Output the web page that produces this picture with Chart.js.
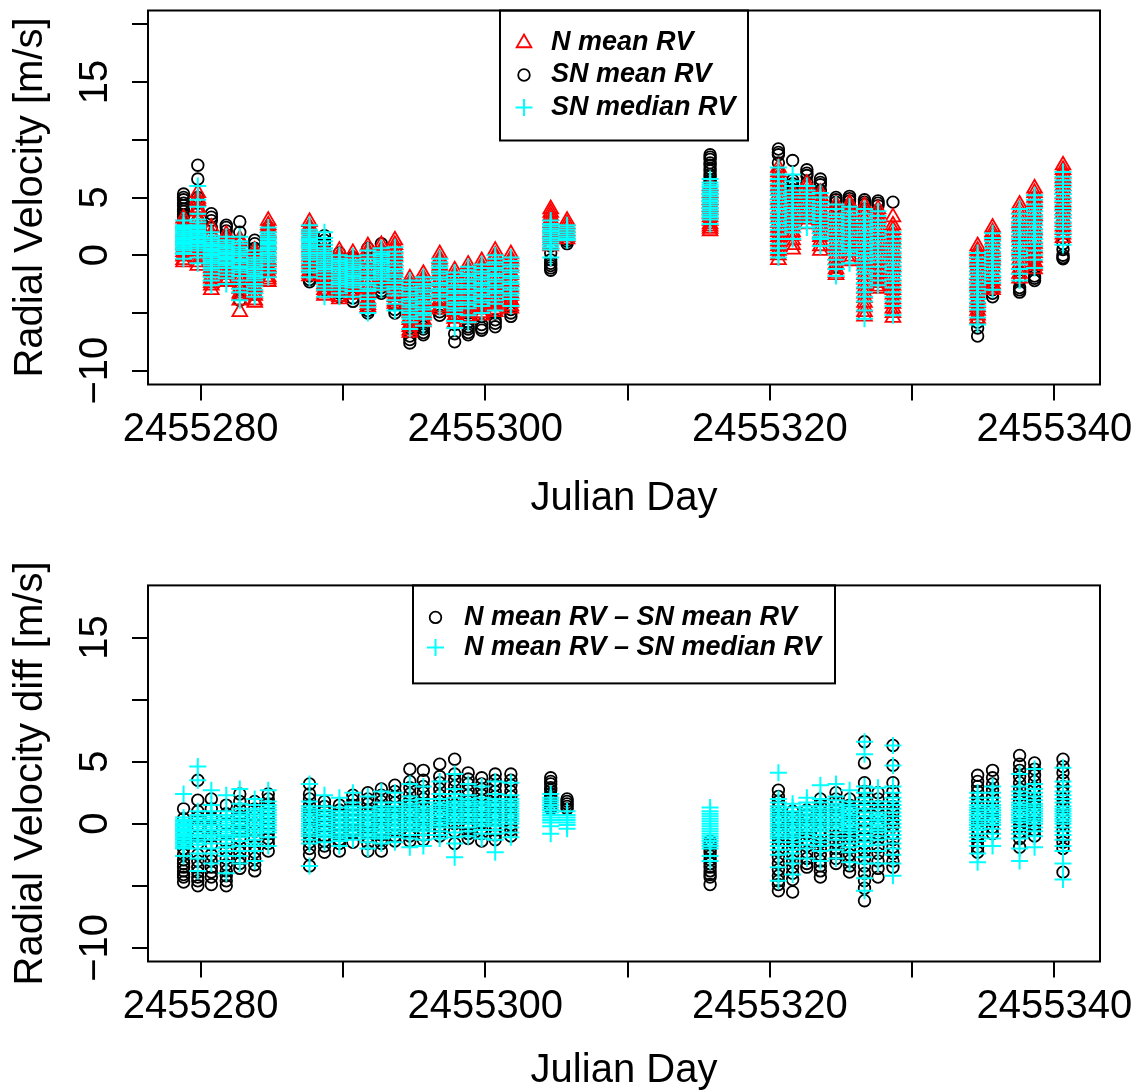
<!DOCTYPE html>
<html>
<head>
<meta charset="utf-8">
<script src="https://cdn.jsdelivr.net/npm/chart.js@4.4.1/dist/chart.umd.min.js"></script>
<style>
  body { margin: 0; background: #fff; }
  canvas { display: block; }
</style>
</head>
<body>
<canvas id="rvChart" width="1144" height="546"></canvas>
<canvas id="diffChart" width="1144" height="545"></canvas>
<script>
// Julian Day of each observing night
const nights = [
  2455278.8, 2455279.8, 2455280.75, 2455281.8, 2455282.75, 2455283.8, 2455284.75,
  2455287.65, 2455288.7, 2455289.75, 2455290.7, 2455291.75, 2455292.7, 2455293.65,
  2455294.7, 2455295.65, 2455296.8, 2455297.85, 2455298.8, 2455299.75, 2455300.7, 2455301.8,
  2455304.6, 2455305.75, 2455315.8,
  2455320.6, 2455321.6, 2455322.6, 2455323.55, 2455324.65, 2455325.6, 2455326.65, 2455327.6, 2455328.65,
  2455334.6, 2455335.65, 2455337.55, 2455338.6, 2455340.6
];

// top panel: RV values per night [m/s]
const nMeanRV = [
  [3.2, 2.8, 2.6, 2.1, 1.9, 1.6, 1.4, 1.3, 1.0, 0.9, 0.6, 0.5, 0.3, 0.0, -0.1, -0.4, -0.6],
  [5.4, 4.9, 4.7, 4.1, 3.8, 3.2, 3.0, 2.6, 2.5, 2.1, 1.9, 1.6, 1.2, 1.0, 0.7, 0.4, 0.1, -0.2, -0.6, -0.9],
  [2.4, 1.9, 1.7, 1.2, 1.0, 0.7, 0.3, 0.1, -0.3, -0.5, -0.9, -1.1, -1.4, -1.8, -2.0, -2.4, -2.6, -3.0],
  [1.8, 1.4, 1.3, 0.9, 0.5, 0.4, 0.0, -0.2, -0.6, -0.8, -1.1, -1.5, -1.7, -2.0, -2.3],
  [1.4, 1.1, 0.6, 0.3, -0.2, -0.5, -0.9, -1.3, -1.8, -2.1, -2.5, -2.9, -3.3, -3.5, -3.9, -4.9],
  [0.4, 0.1, -0.3, -0.5, -1.0, -1.2, -1.6, -2.0, -2.3, -2.7, -2.9, -3.3, -3.5, -3.9, -4.1],
  [3.0, 2.6, 2.4, 2.0, 1.9, 1.5, 1.1, 0.9, 0.6, 0.2, 0.0, -0.4, -0.6, -1.0, -1.2, -1.5, -1.9, -2.1, -2.3],
  [2.9, 2.5, 2.3, 1.9, 1.7, 1.3, 1.1, 0.7, 0.5, 0.2, -0.1, -0.5, -0.7, -1.0, -1.4, -1.6, -1.8],
  [0.6, 0.4, 0.0, -0.4, -0.6, -1.0, -1.2, -1.5, -1.9, -2.1, -2.5, -2.7, -3.0, -3.3, -3.5],
  [0.4, 0.0, -0.2, -0.6, -0.8, -1.2, -1.4, -1.8, -2.0, -2.3, -2.7, -2.9, -3.2, -3.6, -3.8],
  [0.2, -0.2, -0.4, -0.8, -1.0, -1.3, -1.7, -1.9, -2.2, -2.6, -2.8, -3.1, -3.4],
  [0.8, 0.4, 0.2, -0.3, -0.5, -1.0, -1.2, -1.6, -2.0, -2.2, -2.7, -2.9, -3.3, -3.8, -4.0, -4.3, -4.5],
  [0.9, 0.5, 0.3, -0.1, -0.3, -0.7, -0.9, -1.3, -1.5, -1.9, -2.1, -2.5, -2.7],
  [1.3, 0.9, 0.6, 0.2, -0.1, -0.5, -0.8, -1.2, -1.5, -1.9, -2.2, -2.6, -2.9, -3.3, -3.6, -4.0, -4.2],
  [-2.0, -2.4, -2.6, -3.0, -3.2, -3.6, -3.8, -4.2, -4.4, -4.8, -5.0, -5.4, -5.6, -6.0, -6.2, -6.5, -6.7],
  [-1.6, -2.0, -2.2, -2.6, -2.8, -3.2, -3.4, -3.8, -4.0, -4.4, -4.6, -5.0, -5.2, -5.6, -5.8],
  [0.1, -0.3, -0.5, -0.9, -1.1, -1.5, -1.7, -2.1, -2.3, -2.7, -2.9, -3.3, -3.5, -3.9, -4.1, -4.5, -4.7],
  [-1.3, -1.7, -1.9, -2.3, -2.5, -2.9, -3.1, -3.5, -3.7, -4.1, -4.3, -4.7, -4.9, -5.3, -5.5, -5.9],
  [-0.8, -1.2, -1.4, -1.8, -2.0, -2.4, -2.6, -3.0, -3.2, -3.6, -3.8, -4.2, -4.4, -4.8, -5.0, -5.3, -5.5],
  [-0.5, -0.9, -1.1, -1.5, -1.7, -2.1, -2.3, -2.7, -2.9, -3.3, -3.5, -3.9, -4.1, -4.5, -4.7, -5.0, -5.2],
  [0.4, 0.0, -0.2, -0.6, -0.8, -1.2, -1.4, -1.8, -2.0, -2.4, -2.6, -3.0, -3.2, -3.6, -3.8, -4.2, -4.4, -4.7, -4.9],
  [0.1, -0.3, -0.5, -0.9, -1.1, -1.5, -1.7, -2.1, -2.3, -2.7, -2.9, -3.3, -3.5, -3.9, -4.1, -4.4, -4.6],
  [4.0, 3.7, 3.4, 3.1, 2.8, 2.5, 2.3, 2.0, 1.8, 1.5, 1.3, 1.0, 0.8],
  [3.0, 2.7, 2.4, 2.1, 1.8, 1.6, 1.4],
  [6.0, 5.7, 5.4, 5.1, 4.8, 4.5, 4.2, 3.9, 3.6, 3.3, 3.0, 2.7, 2.5, 2.3, 2.1],
  [7.6, 7.2, 6.8, 6.4, 6.0, 5.6, 5.2, 4.8, 4.4, 4.0, 3.6, 3.2, 2.8, 2.4, 2.0, 1.6, 1.2, 0.8, 0.4, 0.0, -0.4],
  [5.5, 5.2, 4.8, 4.5, 4.1, 3.8, 3.4, 3.1, 2.7, 2.4, 2.0, 1.7, 1.3, 0.9, 0.5],
  [6.2, 5.9, 5.5, 5.2, 4.8, 4.5, 4.1, 3.8, 3.4, 3.1, 2.7],
  [5.4, 5.1, 4.7, 4.4, 4.0, 3.7, 3.3, 3.0, 2.6, 2.3, 1.9, 1.6, 1.2, 0.8, 0.4],
  [4.4, 4.0, 3.6, 3.2, 2.8, 2.4, 2.0, 1.6, 1.2, 0.8, 0.4, 0.0, -0.4, -0.8, -1.2, -1.5, -1.7],
  [4.5, 4.2, 3.8, 3.5, 3.1, 2.8, 2.4, 2.1, 1.7, 1.4, 1.0, 0.7, 0.3, -0.1, -0.5],
  [4.3, 3.9, 3.5, 3.1, 2.7, 2.3, 1.9, 1.5, 1.1, 0.7, 0.3, -0.1, -0.5, -0.9, -1.3, -1.7, -2.1, -2.5, -2.9, -3.3, -3.7, -4.1, -4.5, -4.9, -5.3],
  [4.0, 3.6, 3.2, 2.8, 2.4, 2.0, 1.6, 1.2, 0.8, 0.4, 0.0, -0.4, -0.8, -1.2, -1.6, -2.0, -2.4, -2.7, -2.9],
  [3.3, 2.6, 2.2, 1.8, 1.4, 1.0, 0.6, 0.2, -0.2, -0.6, -1.0, -1.4, -1.8, -2.2, -2.6, -3.0, -3.4, -3.8, -4.2, -4.6, -5.0, -5.4],
  [0.8, 0.4, 0.1, -0.3, -0.6, -1.0, -1.3, -1.7, -2.0, -2.4, -2.7, -3.1, -3.4, -3.8, -4.1, -4.5, -4.8, -5.2, -5.5],
  [2.4, 2.0, 1.7, 1.3, 1.0, 0.6, 0.3, -0.1, -0.4, -0.8, -1.1, -1.5, -1.8, -2.2, -2.5, -2.8, -3.0],
  [4.4, 4.0, 3.6, 3.2, 2.8, 2.4, 2.0, 1.6, 1.2, 0.8, 0.4, 0.0, -0.4, -0.8, -1.2, -1.6, -2.0],
  [5.8, 5.4, 5.0, 4.6, 4.2, 3.8, 3.4, 3.0, 2.6, 2.2, 1.8, 1.4, 1.0, 0.6, 0.2, -0.2, -0.6, -0.9, -1.2],
  [7.8, 7.4, 7.1, 6.7, 6.4, 6.0, 5.7, 5.3, 5.0, 4.6, 4.3, 3.9, 3.6, 3.2, 2.9, 2.5, 2.2, 1.8, 1.5]
];

const snMeanRV = [
  [5.3, 5.0, 4.8, 4.5, 4.3, 4.0, 3.8, 3.5, 3.3, 2.8, 2.2, 1.6],
  [7.8, 6.6, 5.0, 4.5, 4.0, 3.0, 2.0, 1.0],
  [3.6, 3.3, 3.0, 2.4, 1.6, 0.8, 0.0, -0.8],
  [2.6, 2.4, 2.1, 1.5, 0.8, 0.0, -0.8],
  [2.9, 2.0, 1.0, 0.0, -1.0, -2.0, -3.0, -3.9],
  [1.3, 1.0, 0.6, -0.2, -1.0, -1.8, -2.6, -3.4],
  [2.4, 2.1, 1.8, 1.0, 0.2, -0.6, -1.4],
  [2.0, 1.2, 0.4, -0.4, -1.2, -1.8, -2.1, -2.3],
  [1.7, 1.3, 0.9, 0.1, -0.7, -1.5, -2.3, -3.0],
  [0.2, -0.6, -1.4, -2.2, -3.0, -3.3, -3.6],
  [-0.2, -1.0, -1.8, -2.6, -3.3, -3.7, -4.0],
  [0.6, -0.3, -1.2, -2.1, -3.0, -3.8, -4.5, -4.8, -5.0],
  [1.0, 0.1, -0.1, -0.6, -1.4, -2.2, -2.8, -3.1, -3.3],
  [-0.5, -1.5, -2.5, -3.5, -4.3, -4.7, -5.0],
  [-2.5, -3.5, -4.5, -5.5, -6.3, -7.0, -7.3, -7.6],
  [-3.0, -4.0, -5.0, -5.8, -6.2, -6.4, -6.7, -6.9],
  [-1.0, -2.0, -3.0, -4.0, -4.6, -4.9, -5.2],
  [-2.5, -3.5, -4.5, -5.3, -6.0, -6.8, -7.5],
  [-2.0, -3.0, -4.0, -5.0, -5.8, -6.2, -6.4, -6.7, -6.9],
  [-1.5, -2.5, -3.5, -4.5, -5.3, -6.0, -6.3, -6.5],
  [-1.0, -2.0, -3.0, -4.0, -5.0, -5.6, -5.9, -6.2],
  [-1.0, -2.0, -3.0, -4.0, -4.7, -5.0, -5.3],
  [1.5, 0.8, 0.2, -0.4, -0.7, -0.9, -1.1, -1.3],
  [1.8, 1.4, 1.2, 1.0],
  [8.7, 8.5, 8.3, 8.0, 7.8, 7.5, 7.3, 7.0, 6.8, 6.5, 6.3, 5.8, 5.3],
  [9.2, 8.9, 8.7, 8.0, 7.2],
  [8.2, 6.5, 6.2, 6.0, 5.7, 5.5, 5.2, 5.0],
  [7.4, 7.1, 6.9, 6.3],
  [6.6, 6.3, 6.1, 5.6],
  [5.0, 4.8, 4.6, 4.2, -1.0],
  [5.1, 4.9, 4.7, 4.3],
  [4.8, 4.6, 4.4, 4.0],
  [4.7, 4.5, 4.3],
  [4.6],
  [-4.0, -5.0, -5.8, -6.3, -7.0],
  [-2.5, -3.0, -3.3, -3.6],
  [-1.5, -2.2, -2.8, -3.0, -3.2],
  [-0.5, -1.2, -1.8, -2.0, -2.2],
  [1.0, 0.5, 0.0, -0.2, -0.3]
];

const snMedianRV = [
  [3.0, 2.6, 2.45, 2.3, 2.2, 2.05, 1.9, 1.85, 1.7, 1.55, 1.5, 1.35, 1.2, 1.15, 1.0, 0.9, 0.75, 0.6, 0.55, 0.4, 0.2, 0.1, -0.3],
  [6.0, 4.8, 4.2, 3.6, 3.1, 2.85, 2.6, 2.45, 2.3, 2.1, 1.95, 1.8, 1.65, 1.5, 1.3, 1.15, 1.0, 0.8, 0.6, 0.4, 0.1, -0.2, -0.7],
  [2.0, 1.7, 1.5, 1.3, 1.1, 0.95, 0.8, 0.6, 0.45, 0.3, 0.1, -0.05, -0.2, -0.4, -0.55, -0.7, -0.9, -1.1, -1.3, -1.6, -1.9, -2.2, -2.6],
  [1.6, 1.3, 1.1, 0.9, 0.75, 0.6, 0.4, 0.25, 0.1, -0.1, -0.25, -0.4, -0.6, -0.75, -0.9, -1.1, -1.4, -1.7, -2.0, -2.5],
  [1.6, 1.2, 1.0, 0.7, 0.5, 0.3, 0.1, -0.1, -0.35, -0.5, -0.7, -0.95, -1.1, -1.3, -1.5, -1.8, -2.2, -2.5, -2.9, -3.2, -3.9],
  [0.4, 0.1, -0.2, -0.4, -0.6, -0.8, -1.0, -1.2, -1.4, -1.6, -1.8, -2.0, -2.2, -2.5, -2.7, -3.0, -3.3, -3.6],
  [2.4, 2.0, 1.8, 1.6, 1.4, 1.2, 1.05, 0.9, 0.7, 0.55, 0.4, 0.2, 0.0, -0.2, -0.4, -0.6, -0.9, -1.2, -1.5, -1.9],
  [2.6, 2.2, 2.0, 1.8, 1.6, 1.4, 1.25, 1.1, 0.9, 0.75, 0.6, 0.4, 0.2, 0.0, -0.2, -0.4, -0.7, -1.0, -1.3, -1.5, -1.9],
  [2.0, 1.5, 1.2, 0.9, 0.6, 0.4, 0.2, 0.0, -0.2, -0.4, -0.6, -0.8, -1.0, -1.2, -1.4, -1.7, -2.0, -2.4, -2.7, -3.0, -3.6],
  [0.0, -0.3, -0.5, -0.7, -0.9, -1.1, -1.3, -1.5, -1.7, -1.9, -2.1, -2.3, -2.5, -2.7, -3.0, -3.3, -3.6],
  [-0.1, -0.4, -0.6, -0.8, -1.0, -1.2, -1.4, -1.6, -1.8, -2.0, -2.2, -2.4, -2.6, -2.8, -3.1, -3.6],
  [0.4, 0.0, -0.3, -0.6, -0.9, -1.1, -1.4, -1.6, -1.9, -2.1, -2.4, -2.6, -2.9, -3.1, -3.5, -3.8, -4.2, -4.5, -5.0],
  [0.6, 0.3, 0.1, -0.1, -0.3, -0.5, -0.7, -0.9, -1.1, -1.3, -1.5, -1.7, -1.9, -2.1, -2.4, -2.7, -3.0],
  [0.7, 0.3, 0.0, -0.3, -0.6, -0.9, -1.2, -1.4, -1.7, -1.9, -2.2, -2.4, -2.7, -2.9, -3.2, -3.5, -3.9, -4.2, -4.8],
  [-2.2, -2.5, -2.8, -3.0, -3.3, -3.5, -3.8, -4.0, -4.3, -4.5, -4.8, -5.0, -5.3, -5.5, -5.8, -6.4],
  [-1.9, -2.2, -2.5, -2.7, -3.0, -3.2, -3.5, -3.7, -4.0, -4.2, -4.5, -4.7, -5.0, -5.2, -5.5, -6.1],
  [-0.3, -0.6, -0.9, -1.1, -1.4, -1.6, -1.9, -2.1, -2.4, -2.6, -2.9, -3.1, -3.4, -3.6, -3.9, -4.5],
  [-1.5, -1.8, -2.1, -2.3, -2.6, -2.8, -3.1, -3.3, -3.6, -3.8, -4.1, -4.3, -4.6, -4.8, -5.1, -5.7, -6.3],
  [-1.0, -1.3, -1.6, -1.8, -2.1, -2.3, -2.6, -2.8, -3.1, -3.3, -3.6, -3.8, -4.1, -4.3, -4.6, -5.2, -5.8],
  [-0.8, -1.1, -1.4, -1.6, -1.9, -2.1, -2.4, -2.6, -2.9, -3.1, -3.4, -3.6, -3.9, -4.1, -4.4, -5.0],
  [0.0, -0.3, -0.6, -0.8, -1.1, -1.3, -1.6, -1.8, -2.1, -2.3, -2.6, -2.8, -3.1, -3.3, -3.6, -3.9, -4.2, -4.8],
  [-0.2, -0.5, -0.8, -1.0, -1.3, -1.5, -1.8, -2.0, -2.3, -2.5, -2.8, -3.0, -3.3, -3.5, -3.8, -4.4],
  [3.0, 2.7, 2.5, 2.3, 2.1, 1.9, 1.7, 1.5, 1.3, 1.1, 0.9, 0.7, 0.5, -0.2],
  [2.6, 2.4, 2.2, 2.0, 1.8, 1.6, 1.4, 1.3],
  [6.6, 6.3, 6.1, 5.9, 5.7, 5.5, 5.3, 5.1, 4.9, 4.7, 4.5, 4.3, 4.1, 3.9, 3.7, 3.5, 3.3, 3.1, 2.7],
  [7.6, 7.0, 6.6, 6.2, 5.8, 5.5, 5.2, 4.9, 4.6, 4.3, 4.0, 3.7, 3.4, 3.1, 2.8, 2.5, 2.2, 1.8, 1.4, 1.0, 0.6, 0.2, -0.2],
  [7.0, 6.4, 6.0, 5.6, 5.3, 5.0, 4.7, 4.4, 4.1, 3.8, 3.5, 3.2, 2.9, 2.6, 2.3, 2.0, 1.4],
  [6.0, 5.6, 5.3, 5.0, 4.7, 4.4, 4.1, 3.8, 3.5, 3.2, 2.9, 2.4],
  [5.4, 5.0, 4.6, 4.3, 4.0, 3.7, 3.4, 3.1, 2.8, 2.5, 2.2, 1.9, 1.6, 1.4, 0.8],
  [4.4, 4.0, 3.6, 3.3, 3.0, 2.7, 2.4, 2.1, 1.8, 1.5, 1.2, 0.9, 0.6, 0.3, 0.0, -0.4, -0.8, -1.2, -1.8],
  [4.2, 3.8, 3.5, 3.2, 2.9, 2.6, 2.3, 2.0, 1.7, 1.4, 1.1, 0.8, 0.5, 0.3, 0.0, -0.7],
  [4.0, 3.6, 3.2, 2.9, 2.6, 2.3, 2.0, 1.7, 1.4, 1.1, 0.8, 0.5, 0.2, -0.1, -0.4, -0.7, -1.0, -1.3, -1.6, -2.0, -2.4, -2.8, -3.2, -3.6, -4.0, -4.8, -5.5],
  [3.8, 3.4, 3.0, 2.7, 2.4, 2.1, 1.8, 1.5, 1.2, 0.9, 0.6, 0.3, 0.0, -0.3, -0.6, -1.0, -1.4, -1.8, -2.2, -2.6],
  [2.0, 1.6, 1.2, 0.9, 0.6, 0.3, 0.0, -0.3, -0.6, -0.9, -1.2, -1.5, -1.8, -2.1, -2.4, -2.8, -3.2, -3.6, -4.0, -4.4, -5.2],
  [0.2, -0.2, -0.5, -0.8, -1.1, -1.4, -1.7, -2.0, -2.3, -2.6, -2.9, -3.2, -3.5, -3.8, -4.1, -4.4, -4.7, -5.4, -6.0],
  [1.9, 1.5, 1.2, 0.9, 0.6, 0.3, 0.0, -0.3, -0.6, -0.9, -1.2, -1.5, -1.8, -2.1, -2.4, -3.0],
  [4.0, 3.6, 3.2, 2.9, 2.6, 2.3, 2.0, 1.7, 1.4, 1.1, 0.8, 0.5, 0.2, -0.1, -0.4, -0.8, -1.2, -1.6, -2.2],
  [5.2, 4.8, 4.4, 4.1, 3.8, 3.5, 3.2, 2.9, 2.6, 2.3, 2.0, 1.7, 1.4, 1.1, 0.8, 0.4, 0.0, -0.4, -1.1],
  [7.2, 6.8, 6.5, 6.2, 5.9, 5.6, 5.3, 5.0, 4.7, 4.4, 4.1, 3.8, 3.5, 3.2, 2.9, 2.6, 2.3, 1.9, 1.6, 0.9]
];

// bottom panel: differences per night [m/s]
const diffMeanRV = [
  [1.2, 0.4, -0.5, -1.0, -1.5, -2.0, -2.5, -2.9, -3.2, -3.5, -3.8, -4.1, -4.3, -4.7],
  [3.5, 1.9, 1.0, 0.5, -0.2, -1.0, -1.6, -2.5, -3.0, -3.5, -3.9, -4.3, -4.6, -5.0],
  [2.0, 1.2, 0.5, -0.3, -1.0, -1.7, -2.5, -3.0, -3.5, -3.9, -4.3, -4.9],
  [1.5, 0.8, 0.0, -0.8, -1.5, -2.2, -2.8, -3.3, -3.8, -4.2, -4.6, -5.0],
  [2.4, 1.8, 1.2, 0.6, 0.0, -0.6, -1.2, -1.8, -2.3, -2.8, -3.2, -3.6],
  [1.8, 1.2, 0.6, 0.0, -0.6, -1.2, -1.8, -2.3, -2.8, -3.3, -3.8],
  [2.4, 2.0, 1.6, 1.2, 0.8, 0.4, 0.0, -0.4, -0.8, -1.2, -1.6, -2.2],
  [3.2, 2.4, 2.0, 1.5, 1.0, 0.5, 0.0, -0.5, -1.0, -1.5, -2.0, -2.5, -3.4],
  [1.8, 1.4, 1.0, 0.6, 0.2, -0.2, -0.6, -1.0, -1.4, -1.8, -2.3],
  [1.5, 1.1, 0.7, 0.3, -0.1, -0.5, -0.9, -1.3, -1.6, -2.2],
  [2.3, 1.9, 1.5, 1.1, 0.7, 0.3, -0.1, -0.5, -0.8, -1.5],
  [2.5, 2.0, 1.6, 1.1, 0.7, 0.2, -0.2, -0.7, -1.1, -1.6, -2.2],
  [2.8, 2.3, 1.8, 1.4, 0.9, 0.5, 0.0, -0.5, -0.9, -1.3, -1.6, -2.2],
  [3.1, 2.6, 2.2, 1.7, 1.3, 0.8, 0.4, -0.1, -0.5, -1.0, -1.4],
  [4.4, 3.4, 2.9, 2.4, 1.9, 1.4, 0.9, 0.4, -0.1, -0.6, -1.0, -1.4],
  [4.3, 3.5, 3.0, 2.5, 2.0, 1.5, 1.0, 0.5, 0.0, -0.5, -0.9, -1.3],
  [4.8, 3.8, 3.3, 2.8, 2.3, 1.8, 1.3, 0.8, 0.3, -0.2, -0.6, -1.0],
  [5.2, 4.0, 3.5, 3.0, 2.5, 2.0, 1.5, 1.0, 0.5, 0.0, -0.6, -1.6],
  [4.1, 3.6, 3.2, 2.7, 2.3, 1.8, 1.4, 0.9, 0.5, 0.0, -0.4, -0.8, -1.2],
  [3.7, 3.2, 2.8, 2.3, 1.9, 1.4, 1.0, 0.5, 0.1, -0.4, -0.8, -1.4],
  [4.0, 3.5, 3.1, 2.6, 2.2, 1.7, 1.3, 0.8, 0.4, -0.1, -0.5, -0.9, -1.3],
  [4.0, 3.5, 3.1, 2.6, 2.2, 1.7, 1.3, 0.8, 0.4, -0.1, -0.5, -1.0],
  [3.7, 3.4, 3.2, 2.9, 2.7, 2.4, 2.2, 1.9, 1.7, 1.4, 1.2],
  [2.0, 1.8, 1.6, 1.4, 1.2],
  [-1.4, -1.7, -2.0, -2.3, -2.6, -2.9, -3.2, -3.5, -3.8, -4.1, -4.3, -4.9],
  [2.7, 2.2, 1.8, 1.3, 0.8, 0.3, -0.2, -0.7, -1.2, -1.7, -2.2, -2.7, -3.2, -3.7, -4.2, -4.6, -4.9, -5.4],
  [1.0, 0.5, 0.0, -0.5, -1.0, -1.5, -2.0, -2.5, -3.0, -3.5, -4.0, -4.5, -5.5],
  [1.1, 0.7, 0.2, -0.3, -0.8, -1.3, -1.8, -2.3, -2.8, -3.2, -3.5],
  [2.0, 1.5, 1.0, 0.5, 0.0, -0.5, -1.0, -1.5, -2.0, -2.5, -3.0, -3.4, -3.8, -4.3],
  [2.5, 2.0, 1.5, 1.0, 0.5, 0.0, -0.5, -1.0, -1.5, -2.0, -2.4, -2.8, -3.2],
  [2.0, 1.5, 1.0, 0.5, 0.0, -0.5, -1.0, -1.5, -2.0, -2.5, -3.0, -3.4, -3.9],
  [6.6, 4.9, 3.3, 2.6, 2.0, 1.4, 0.8, 0.2, -0.4, -1.0, -1.6, -2.2, -2.8, -3.4, -4.0, -4.6, -5.2, -6.2],
  [2.5, 2.0, 1.4, 0.9, 0.3, -0.2, -0.8, -1.3, -1.9, -2.4, -3.0, -3.6, -4.3],
  [6.3, 4.7, 3.3, 2.6, 2.0, 1.4, 0.9, 0.3, -0.2, -0.8, -1.3, -1.9, -2.4, -3.0, -3.5],
  [3.9, 3.4, 3.0, 2.6, 2.1, 1.6, 1.1, 0.6, 0.1, -0.4, -0.9, -1.4, -1.9, -2.3],
  [4.3, 3.7, 3.2, 2.7, 2.2, 1.7, 1.2, 0.7, 0.2, -0.3, -0.8],
  [5.5, 4.8, 4.3, 3.8, 3.3, 2.8, 2.3, 1.8, 1.3, 0.8, 0.3, -0.2, -0.7, -1.2, -1.9],
  [4.9, 4.4, 3.9, 3.4, 2.9, 2.4, 1.9, 1.4, 0.9, 0.4, -0.1, -0.5, -1.0],
  [5.2, 4.6, 4.1, 3.5, 3.0, 2.5, 2.0, 1.5, 1.0, 0.5, 0.0, -0.5, -1.0, -1.5, -2.0, -3.9]
];

const diffMedianRV = [
  [2.4, 0.5, 0.3, 0.15, 0.0, -0.1, -0.25, -0.4, -0.5, -0.65, -0.8, -0.9, -1.05, -1.2, -1.3, -1.45, -1.6, -1.75, -1.9, -2.0, -2.6],
  [4.6, 3.5, 1.0, 0.7, 0.5, 0.3, 0.1, -0.1, -0.3, -0.5, -0.7, -0.9, -1.1, -1.3, -1.5, -1.7, -2.0, -2.4, -2.8, -3.8],
  [2.7, 1.5, 1.0, 0.7, 0.5, 0.3, 0.1, -0.1, -0.3, -0.5, -0.7, -0.9, -1.1, -1.3, -1.6, -2.0, -2.4, -3.2],
  [2.3, 1.0, 0.7, 0.5, 0.3, 0.1, -0.1, -0.3, -0.5, -0.7, -0.9, -1.1, -1.3, -1.6, -1.9, -2.2, -2.6, -3.0, -4.0],
  [2.8, 1.6, 1.2, 0.9, 0.7, 0.5, 0.3, 0.1, -0.1, -0.3, -0.5, -0.7, -0.9, -1.1, -1.4, -1.8, -2.2, -2.6, -3.2],
  [2.0, 1.5, 1.2, 1.0, 0.8, 0.6, 0.4, 0.2, 0.0, -0.2, -0.4, -0.6, -0.8, -1.0, -1.3, -1.6, -1.8, -2.2, -3.0],
  [2.7, 1.8, 1.5, 1.3, 1.1, 0.9, 0.7, 0.5, 0.3, 0.1, -0.1, -0.3, -0.5, -0.7, -1.1, -1.8],
  [3.2, 1.8, 1.4, 1.2, 1.0, 0.8, 0.6, 0.4, 0.2, 0.0, -0.2, -0.4, -0.6, -0.8, -1.0, -1.3, -1.6, -3.4],
  [2.3, 1.4, 1.1, 0.9, 0.7, 0.5, 0.3, 0.1, -0.1, -0.3, -0.5, -0.7, -0.9, -1.1, -1.5],
  [2.1, 1.3, 1.0, 0.8, 0.6, 0.4, 0.2, 0.0, -0.2, -0.4, -0.6, -0.8, -1.0, -1.2, -1.4, -1.8],
  [2.5, 1.7, 1.4, 1.2, 1.0, 0.8, 0.6, 0.4, 0.2, 0.0, -0.2, -0.4, -0.6, -0.8, -1.0, -1.3],
  [2.2, 1.3, 1.0, 0.8, 0.6, 0.4, 0.2, 0.0, -0.2, -0.4, -0.6, -0.8, -1.0, -1.2, -1.5, -2.0],
  [2.6, 1.7, 1.4, 1.2, 1.0, 0.8, 0.6, 0.4, 0.2, 0.0, -0.2, -0.4, -0.6, -0.8, -1.0, -1.2, -1.6],
  [2.5, 1.7, 1.4, 1.2, 1.0, 0.8, 0.6, 0.4, 0.2, 0.0, -0.2, -0.4, -0.6, -0.8, -1.1, -1.5],
  [3.2, 2.2, 1.9, 1.6, 1.4, 1.2, 1.0, 0.8, 0.6, 0.4, 0.2, 0.0, -0.2, -0.4, -0.6, -0.9, -1.2, -1.9],
  [3.0, 2.0, 1.7, 1.4, 1.2, 1.0, 0.8, 0.6, 0.4, 0.2, 0.0, -0.2, -0.4, -0.6, -0.9, -1.3, -1.8],
  [3.4, 2.4, 2.0, 1.7, 1.5, 1.3, 1.1, 0.9, 0.7, 0.5, 0.3, 0.1, -0.1, -0.3, -0.6, -0.9, -1.2],
  [4.0, 2.8, 2.4, 2.1, 1.8, 1.6, 1.4, 1.2, 1.0, 0.8, 0.6, 0.4, 0.2, 0.0, -0.3, -0.7, -1.1, -1.6, -2.7],
  [3.2, 2.3, 2.0, 1.8, 1.6, 1.4, 1.2, 1.0, 0.8, 0.6, 0.4, 0.2, 0.0, -0.3, -0.6, -1.0],
  [3.0, 2.1, 1.8, 1.6, 1.4, 1.2, 1.0, 0.8, 0.6, 0.4, 0.2, 0.0, -0.2, -0.5, -0.8, -1.2],
  [3.4, 2.4, 2.0, 1.8, 1.6, 1.4, 1.2, 1.0, 0.8, 0.6, 0.4, 0.2, 0.0, -0.2, -0.5, -0.8, -1.3, -2.3],
  [3.3, 2.3, 2.0, 1.8, 1.6, 1.4, 1.2, 1.0, 0.8, 0.6, 0.4, 0.2, 0.0, -0.3, -0.7, -1.1],
  [2.4, 2.1, 1.9, 1.7, 1.5, 1.3, 1.1, 0.9, 0.7, 0.5, 0.3, 0.1, -0.2, -0.8],
  [1.0, 0.7, 0.5, 0.3, 0.1, -0.1, -0.4],
  [1.3, 1.0, 0.8, 0.6, 0.4, 0.2, 0.0, -0.2, -0.4, -0.6, -0.8, -1.0, -1.2, -1.4, -1.6, -1.8, -2.0, -2.6, -3.0],
  [4.1, 2.0, 1.7, 1.4, 1.2, 1.0, 0.8, 0.6, 0.4, 0.2, 0.0, -0.2, -0.4, -0.6, -0.8, -1.0, -1.2, -1.5, -1.8, -2.1, -2.5, -3.5, -4.6],
  [1.6, 1.3, 1.0, 0.8, 0.6, 0.4, 0.2, 0.0, -0.2, -0.4, -0.6, -0.8, -1.0, -1.2, -1.5, -1.8, -2.1, -2.4, -2.8, -3.2, -4.1],
  [2.1, 1.7, 1.4, 1.2, 1.0, 0.8, 0.6, 0.4, 0.2, 0.0, -0.2, -0.4, -0.6, -0.8, -1.1, -1.4, -1.7, -2.0, -2.8],
  [3.1, 2.0, 1.7, 1.4, 1.2, 1.0, 0.8, 0.6, 0.4, 0.2, 0.0, -0.2, -0.4, -0.6, -0.9, -1.2, -1.5, -1.8, -2.2, -3.0],
  [3.2, 2.2, 1.9, 1.6, 1.4, 1.2, 1.0, 0.8, 0.6, 0.4, 0.2, 0.0, -0.2, -0.4, -0.7, -1.0, -1.3, -1.7, -2.1, -2.8],
  [2.7, 1.8, 1.5, 1.3, 1.1, 0.9, 0.7, 0.5, 0.3, 0.1, -0.1, -0.3, -0.5, -0.7, -1.0, -1.3, -1.6, -1.9, -2.3, -3.1],
  [6.6, 5.6, 3.0, 2.5, 2.1, 1.8, 1.5, 1.2, 0.9, 0.6, 0.3, 0.0, -0.3, -0.6, -0.9, -1.2, -1.5, -1.8, -2.2, -2.7, -3.2, -4.4, -5.4],
  [2.9, 1.8, 1.5, 1.2, 0.9, 0.7, 0.5, 0.3, 0.1, -0.1, -0.3, -0.5, -0.7, -1.0, -1.3, -1.7, -2.2, -3.2],
  [6.3, 4.7, 3.0, 2.5, 2.1, 1.8, 1.5, 1.2, 0.9, 0.6, 0.3, 0.0, -0.3, -0.6, -0.9, -1.2, -1.6, -2.0, -2.5, -3.2, -4.2],
  [2.5, 2.1, 1.8, 1.5, 1.3, 1.1, 0.9, 0.7, 0.5, 0.3, 0.1, -0.1, -0.3, -0.5, -0.8, -1.1, -1.4, -1.8, -2.4, -3.1],
  [3.0, 2.5, 2.1, 1.8, 1.5, 1.3, 1.1, 0.9, 0.7, 0.5, 0.3, 0.1, -0.1, -0.4, -0.8, -1.2, -1.8],
  [4.0, 3.0, 2.6, 2.3, 2.0, 1.7, 1.5, 1.3, 1.1, 0.9, 0.7, 0.5, 0.3, 0.1, -0.2, -0.5, -0.8, -1.2, -2.0, -3.0],
  [4.4, 3.2, 2.8, 2.5, 2.2, 1.9, 1.6, 1.4, 1.2, 1.0, 0.8, 0.6, 0.4, 0.2, 0.0, -0.3, -0.6, -1.0, -1.9],
  [4.5, 3.4, 3.0, 2.6, 2.3, 2.0, 1.7, 1.4, 1.2, 1.0, 0.8, 0.6, 0.4, 0.2, 0.0, -0.3, -0.6, -0.9, -1.3, -1.8, -2.2, -3.2, -4.5]
];

// axes
const xMin = 2455276.3, xMax = 2455343.2;
const xTicks = [2455280, 2455290, 2455300, 2455310, 2455320, 2455330, 2455340];
const xTickLabels = ['2455280', '', '2455300', '', '2455320', '', '2455340'];
const yTicksTop = [-10, -5, 0, 5, 10, 15, 20];
const yTicksBottom = [-10, -5, 0, 5, 10, 15];
const yLabelled = { '-10': '\u221210', '0': '0', '5': '5', '15': '15' };

const FONT = '"Liberation Sans", Arial, Helvetica, sans-serif';
Chart.defaults.font.family = FONT;
Chart.defaults.color = '#000';

const styles = {
  tri:  { pointStyle: 'triangle', radius: 8.5, color: '#ff0000', width: 1.8 },
  circ: { pointStyle: 'circle',   radius: 5.8, color: '#000000', width: 1.8 },
  plus: { pointStyle: 'cross',    radius: 8.5, color: '#00ffff', width: 2 }
};

function toPoints(perNight) {
  const pts = [];
  perNight.forEach((vals, i) => vals.forEach(v => pts.push({ x: nights[i], y: v })));
  return pts;
}

function dataset(label, perNight, st) {
  return {
    label: label,
    data: toPoints(perNight),
    pointStyle: st.pointStyle,
    pointRadius: st.radius,
    pointBorderColor: st.color,
    pointBackgroundColor: 'rgba(0,0,0,0)',
    pointBorderWidth: st.width,
    showLine: false
  };
}

function drawMarker(ctx, st, x, y) {
  const r = st.radius;
  ctx.save();
  ctx.strokeStyle = st.color;
  ctx.lineWidth = st.width;
  ctx.beginPath();
  if (st.pointStyle === 'circle') {
    ctx.arc(x, y, r, 0, Math.PI * 2);
  } else if (st.pointStyle === 'triangle') {
    for (let k = 0; k < 3; k++) {
      const a = -Math.PI / 2 + k * 2 * Math.PI / 3;
      const px = x + r * Math.cos(a), py = y + r * Math.sin(a);
      k === 0 ? ctx.moveTo(px, py) : ctx.lineTo(px, py);
    }
    ctx.closePath();
  } else {
    ctx.moveTo(x - r, y); ctx.lineTo(x + r, y);
    ctx.moveTo(x, y - r); ctx.lineTo(x, y + r);
  }
  ctx.stroke();
  ctx.restore();
}

// box around the plot region, like R's box()
const framePlugin = {
  id: 'frame',
  afterDraw(chart) {
    const { ctx, chartArea: a } = chart;
    ctx.save();
    ctx.strokeStyle = '#000';
    ctx.lineWidth = 2;
    ctx.strokeRect(a.left, a.top, a.right - a.left, a.bottom - a.top);
    ctx.restore();
  }
};

function legendPlugin(cfg) {
  return {
    id: 'rLegend',
    afterDatasetsDraw(chart) {
      const { ctx, chartArea: a } = chart;
      const left = (a.left + a.right) / 2 - cfg.width / 2;
      const top = a.top;
      ctx.save();
      ctx.fillStyle = '#fff';
      ctx.fillRect(left, top, cfg.width, cfg.height);
      ctx.strokeStyle = '#000';
      ctx.lineWidth = 2;
      ctx.strokeRect(left, top, cfg.width, cfg.height);
      ctx.font = 'italic bold 27px ' + FONT;
      ctx.textBaseline = 'middle';
      ctx.textAlign = 'left';
      cfg.items.forEach((item, i) => {
        const y = top + cfg.rowY[i];
        drawMarker(ctx, item.style, left + cfg.symbolX, y);
        ctx.fillStyle = '#000';
        ctx.fillText(item.text, left + cfg.textX, y);
      });
      ctx.restore();
    }
  };
}

function panelOptions(p) {
  return {
    responsive: false,
    animation: false,
    events: [],
    layout: { padding: { left: 0, right: 44, top: p.padTop, bottom: 0 } },
    plugins: { legend: { display: false }, tooltip: { enabled: false } },
    scales: {
      x: {
        type: 'linear',
        min: xMin,
        max: xMax,
        afterBuildTicks: s => { s.ticks = xTicks.map(v => ({ value: v })); },
        afterFit: s => { s.height = p.xAxisHeight; s.paddingLeft = 0; s.paddingRight = 0; },
        border: { display: false },
        grid: { drawOnChartArea: false, drawTicks: true, tickLength: 16, color: '#000', lineWidth: 2 },
        ticks: {
          autoSkip: false, minRotation: 0, maxRotation: 0, padding: 9, color: '#000',
          font: { size: 40, lineHeight: 1 },
          callback: v => xTickLabels[xTicks.indexOf(v)] || ''
        },
        title: {
          display: true, text: 'Julian Day', color: '#000',
          font: { size: 40, lineHeight: 1 },
          padding: { top: 0, bottom: p.xTitlePad }
        }
      },
      y: {
        type: 'linear',
        min: p.yMin,
        max: p.yMax,
        afterBuildTicks: s => { s.ticks = p.yTicks.map(v => ({ value: v })); },
        afterFit: s => { s.width = 148; s.paddingTop = 0; s.paddingBottom = 0; },
        border: { display: false },
        grid: { drawOnChartArea: false, drawTicks: true, tickLength: 16, color: '#000', lineWidth: 2 },
        ticks: {
          autoSkip: false, minRotation: 90, maxRotation: 90, crossAlign: 'center', padding: 2, color: '#000',
          font: { size: 40, lineHeight: 1 },
          callback: v => yLabelled[String(v)] || ''
        },
        title: {
          display: true, text: p.yTitle, color: '#000',
          font: { size: 40, lineHeight: 1 },
          padding: { top: 11, bottom: 0 }
        }
      }
    }
  };
}

new Chart(document.getElementById('rvChart'), {
  type: 'scatter',
  data: {
    datasets: [
      dataset('SN median RV', snMedianRV, styles.plus),
      dataset('N mean RV', nMeanRV, styles.tri),
      dataset('SN mean RV', snMeanRV, styles.circ)
    ]
  },
  options: panelOptions({
    padTop: 10, xAxisHeight: 161.5, xTitlePad: 27,
    yMin: -11.2, yMax: 21.2, yTicks: yTicksTop, yTitle: 'Radial Velocity [m/s]'
  }),
  plugins: [legendPlugin({
    width: 248, height: 130, symbolX: 24, textX: 51, rowY: [32.5, 64.5, 97],
    items: [
      { text: 'N mean RV', style: styles.tri },
      { text: 'SN mean RV', style: styles.circ },
      { text: 'SN median RV', style: styles.plus }
    ]
  }), framePlugin]
});

new Chart(document.getElementById('diffChart'), {
  type: 'scatter',
  data: {
    datasets: [
      dataset('N mean RV \u2013 SN median RV', diffMedianRV, styles.plus),
      dataset('N mean RV \u2013 SN mean RV', diffMeanRV, styles.circ)
    ]
  },
  options: panelOptions({
    padTop: 39.4, xAxisHeight: 129.5, xTitlePad: 0,
    yMin: -11.1, yMax: 19.2, yTicks: yTicksBottom, yTitle: 'Radial Velocity diff [m/s]'
  }),
  plugins: [legendPlugin({
    width: 422, height: 98, symbolX: 22.5, textX: 51, rowY: [32, 62],
    items: [
      { text: 'N mean RV \u2013 SN mean RV', style: styles.circ },
      { text: 'N mean RV \u2013 SN median RV', style: styles.plus }
    ]
  }), framePlugin]
});
</script>
</body>
</html>
